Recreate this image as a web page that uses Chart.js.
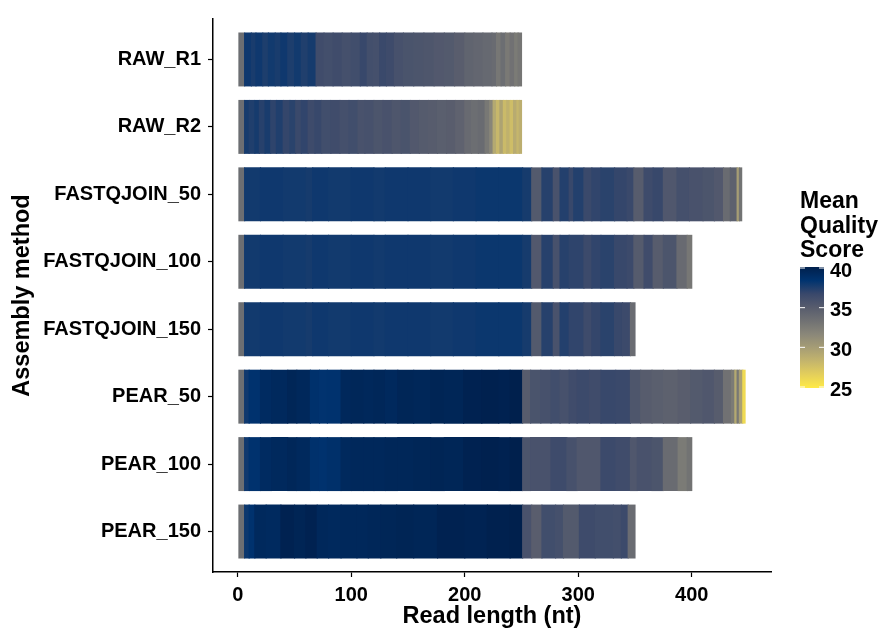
<!DOCTYPE html>
<html>
<head>
<meta charset="utf-8">
<script src="https://cdn.jsdelivr.net/npm/chart.js@4.4.1/dist/chart.umd.min.js"></script>
<style>
  html, body { margin: 0; padding: 0; background: #ffffff; }
  #wrap { width: 882px; height: 635px; position: relative; }
</style>
</head>
<body>
<div id="wrap"><canvas id="chart" width="882" height="635"></canvas></div>
<script>
// Assembly methods (top to bottom) and their read lengths in nt
const rowLabels = ['RAW_R1', 'RAW_R2', 'FASTQJOIN_50', 'FASTQJOIN_100', 'FASTQJOIN_150', 'PEAR_50', 'PEAR_100', 'PEAR_150'];
const readLengths = [250, 250, 444, 400, 350, 447, 400, 350];
const xTicks = [0, 100, 200, 300, 400];
const qualityTicks = [40, 35, 30, 25];

// Runs of similar mean quality: first position of each run and its mean quality score
const rawR1Start = [1, 6, 12, 16, 22, 27, 33, 38, 44, 50, 56, 62, 69, 76, 84, 92, 100, 108, 114, 119, 125, 131, 138, 146, 155, 164, 173, 182, 191, 200, 208, 216, 224, 228, 232, 236, 240, 244, 247];
const rawR1Qual  = [33.6, 37.9, 37.6, 37.9, 37.5, 37.8, 37.6, 37.9, 37.5, 37.8, 37.4, 37.7, 36.3, 36.1, 36.3, 36.0, 36.2, 36.7, 36.1, 36.0, 36.6, 36.4, 35.9, 35.7, 35.6, 35.5, 35.3, 35.2, 34.9, 34.4, 34.2, 34.0, 33.8, 32.9, 33.6, 32.7, 33.3, 32.6, 33.0];

const rawR2Start = [1, 6, 10, 15, 19, 24, 29, 34, 40, 46, 51, 56, 62, 68, 74, 82, 90, 98, 106, 112, 120, 128, 136, 144, 152, 160, 168, 176, 184, 192, 200, 206, 212, 218, 222, 225, 228, 231, 234, 237, 240, 243, 246, 248];
const rawR2Qual  = [33.6, 37.7, 37.4, 37.7, 37.2, 37.6, 37.0, 37.4, 36.8, 37.1, 36.6, 36.9, 36.4, 36.7, 36.2, 36.3, 36.0, 36.2, 35.8, 35.9, 35.6, 35.8, 35.5, 35.7, 35.3, 35.1, 35.0, 34.8, 34.9, 34.5, 33.9, 33.6, 33.8, 32.8, 31.8, 29.2, 28.2, 29.6, 28.0, 28.6, 27.8, 29.0, 28.3, 28.8];

const fqj50Start = [1, 6, 20, 40, 60, 66, 80, 100, 120, 130, 150, 170, 190, 210, 230, 251, 259, 268, 278, 284, 292, 296, 305, 312, 320, 332, 343, 349, 358, 366, 375, 387, 398, 410, 420, 428, 434, 440, 442];
const fqj50Qual  = [33.6, 37.8, 37.9, 37.8, 37.7, 37.9, 37.8, 37.9, 37.8, 37.9, 37.9, 37.8, 37.9, 38.0, 38.0, 37.7, 35.2, 37.2, 35.8, 37.3, 36.7, 37.3, 36.6, 36.9, 37.1, 36.8, 36.6, 35.0, 36.4, 36.7, 35.4, 36.0, 35.8, 35.6, 35.3, 33.8, 34.6, 30.0, 33.2];

const fqj100Start = [1, 6, 20, 40, 60, 66, 80, 100, 120, 130, 150, 170, 190, 210, 230, 251, 259, 268, 278, 284, 292, 305, 312, 320, 332, 343, 349, 358, 366, 375, 387, 396];
const fqj100Qual  = [33.6, 37.8, 37.9, 37.8, 37.7, 37.9, 37.8, 37.9, 37.8, 37.9, 37.9, 37.8, 37.9, 38.0, 38.0, 37.7, 35.3, 37.2, 35.9, 37.2, 37.0, 36.5, 36.9, 37.1, 36.7, 36.5, 35.1, 36.3, 35.0, 35.6, 33.9, 32.9];

const fqj150Start = [1, 6, 20, 40, 60, 66, 80, 100, 120, 130, 150, 170, 190, 210, 230, 251, 259, 268, 278, 284, 292, 305, 312, 320, 332, 339, 346];
const fqj150Qual  = [33.6, 37.8, 37.9, 37.8, 37.7, 37.9, 37.8, 37.9, 37.8, 37.9, 37.9, 37.8, 37.9, 38.0, 38.0, 37.7, 35.2, 37.2, 35.8, 37.3, 36.9, 36.4, 36.8, 37.1, 36.7, 36.5, 33.7];

const pear50Start = [1, 6, 10, 20, 30, 44, 52, 64, 72, 79, 91, 100, 111, 120, 130, 141, 155, 170, 182, 199, 215, 230, 240, 251, 258, 267, 276, 284, 292, 299, 310, 320, 333, 346, 355, 365, 375, 388, 399, 410, 420, 428, 435, 438, 440, 442, 445];
const pear50Qual  = [33.6, 37.9, 38.4, 39.0, 39.2, 39.5, 39.3, 38.5, 38.3, 38.4, 39.3, 39.4, 39.3, 39.4, 39.2, 39.5, 39.4, 39.6, 39.5, 39.8, 39.9, 39.8, 40.0, 35.0, 35.7, 35.9, 36.2, 35.9, 36.3, 36.5, 36.3, 36.7, 36.6, 35.5, 35.0, 34.8, 34.6, 34.9, 35.2, 35.4, 35.0, 33.3, 32.6, 29.2, 32.8, 29.8, 26.0];

const pear100Start = [1, 6, 10, 20, 30, 44, 52, 64, 72, 79, 91, 100, 111, 120, 130, 141, 155, 170, 182, 199, 215, 230, 240, 251, 258, 276, 290, 299, 320, 333, 346, 352, 365, 375, 388, 396];
const pear100Qual  = [33.6, 37.9, 38.4, 39.0, 39.2, 39.4, 39.2, 38.5, 38.4, 38.6, 39.2, 39.3, 39.3, 39.3, 39.4, 39.4, 39.5, 39.6, 39.5, 39.8, 39.9, 39.8, 40.0, 35.6, 35.8, 36.4, 35.9, 35.4, 36.5, 36.3, 35.4, 35.8, 35.6, 33.8, 32.6, 33.2];

const pear150Start = [1, 6, 10, 15, 25, 38, 50, 60, 70, 80, 91, 105, 115, 126, 140, 155, 176, 200, 220, 240, 251, 259, 268, 280, 287, 301, 315, 331, 338, 344];
const pear150Qual  = [33.6, 38.0, 38.4, 39.2, 39.1, 39.8, 39.6, 39.8, 39.3, 39.2, 39.3, 39.3, 39.4, 39.5, 39.6, 39.5, 39.8, 39.7, 39.9, 40.0, 35.8, 34.9, 36.2, 36.0, 35.2, 36.4, 36.2, 36.1, 36.5, 33.7];

const rowRuns = [
  [rawR1Start, rawR1Qual], [rawR2Start, rawR2Qual],
  [fqj50Start, fqj50Qual], [fqj100Start, fqj100Qual], [fqj150Start, fqj150Qual],
  [pear50Start, pear50Qual], [pear100Start, pear100Qual], [pear150Start, pear150Qual]
];

// cividis palette, reversed so that high quality is dark blue
const cividis = ['#00204D', '#00336F', '#39486B', '#575C6D', '#707173', '#8A8779', '#A69D75', '#C4B56C', '#E4CF5B', '#FFEA46'];
const Q_LOW = 25, Q_HIGH = 40;
const cividisRgb = cividis.map(h => [1, 3, 5].map(i => parseInt(h.substr(i, 2), 16)));

function qualityColor(q) {
  let t = (Q_HIGH - q) / (Q_HIGH - Q_LOW);
  t = Math.max(0, Math.min(1, t));
  const pos = t * (cividisRgb.length - 1);
  const i = Math.min(Math.floor(pos), cividisRgb.length - 2);
  const f = pos - i;
  const a = cividisRgb[i], b = cividisRgb[i + 1];
  const c = a.map((v, k) => Math.round(v + (b[k] - v) * f));
  return `rgb(${c[0]},${c[1]},${c[2]})`;
}

// One dataset per assembly method; each run is a floating bar along the read.
// A run reaches one position into the next one, which is drawn over it, so no seams show.
const datasets = rowRuns.map(([starts, quals], r) => ({
  label: rowLabels[r],
  data: starts.map((s, k) => ({
    x: [s - 0.5, k === starts.length - 1 ? readLengths[r] + 0.5 : starts[k + 1] + 0.5],
    y: r + 1,
    q: quals[k]
  })),
  backgroundColor: ctx => qualityColor(ctx.raw.q),
  borderWidth: 0,
  grouped: false,
  barPercentage: 0.8,
  categoryPercentage: 1
}));

const FONT = "'Liberation Sans', Arial, Helvetica, sans-serif";

// Colour bar legend for mean quality score
const colorBarLegend = {
  id: 'colorBarLegend',
  afterDraw(chart) {
    const ctx = chart.ctx;
    const x0 = 800, w = 24, yTop = 267, yBot = 388;
    const yHi = 268, yLo = 387;
    const grad = ctx.createLinearGradient(0, yTop, 0, yBot);
    cividis.forEach((c, i) => grad.addColorStop(i / (cividis.length - 1), c));
    ctx.save();
    ctx.fillStyle = grad;
    ctx.fillRect(x0, yTop, w, yBot - yTop);
    ctx.strokeStyle = '#ffffff';
    ctx.lineWidth = 1;
    ctx.fillStyle = '#000000';
    ctx.font = `bold 20px ${FONT}`;
    ctx.textAlign = 'left';
    ctx.textBaseline = 'middle';
    qualityTicks.forEach(v => {
      const y = yLo + (yHi - yLo) * (v - Q_LOW) / (Q_HIGH - Q_LOW);
      ctx.beginPath();
      ctx.moveTo(x0, y); ctx.lineTo(x0 + 5, y);
      ctx.moveTo(x0 + w - 5, y); ctx.lineTo(x0 + w, y);
      ctx.stroke();
      ctx.fillText(String(v), x0 + 30, y + 3);
    });
    ctx.font = `bold 23px ${FONT}`;
    ctx.textBaseline = 'alphabetic';
    ['Mean', 'Quality', 'Score'].forEach((t, i) => ctx.fillText(t, x0, 208 + i * 24.5));
    ctx.restore();
  }
};

new Chart(document.getElementById('chart'), {
  type: 'bar',
  data: { datasets },
  plugins: [colorBarLegend],
  options: {
    indexAxis: 'y',
    responsive: false,
    animation: false,
    events: [],
    layout: { padding: { top: 8, right: 111, left: 0, bottom: 0 } },
    plugins: { legend: { display: false }, tooltip: { enabled: false } },
    scales: {
      x: {
        type: 'linear',
        min: -21.85,
        max: 469.85,
        afterBuildTicks: s => { s.ticks = xTicks.map(v => ({ value: v })); },
        afterFit: s => { s.height = 63; },
        grid: { drawOnChartArea: false, drawTicks: true, tickLength: 5, tickColor: '#000', tickWidth: 1.2 },
        border: { display: true, color: '#000', width: 1.5 },
        ticks: { color: '#000', padding: 6, font: { family: FONT, size: 20, weight: 'bold' } },
        title: { display: true, text: 'Read length (nt)', color: '#000', padding: { top: 0, bottom: 4 }, font: { family: FONT, size: 23.5, weight: 'bold' } }
      },
      y: {
        type: 'linear',
        offset: false,
        min: 0.4,
        max: 8.6,
        reverse: true,
        afterBuildTicks: s => { s.ticks = rowLabels.map((_, i) => ({ value: i + 1 })); },
        afterFit: s => { s.width = 213; },
        grid: { offset: false, drawOnChartArea: false, drawTicks: true, tickLength: 5, tickColor: '#000', tickWidth: 1.2 },
        border: { display: true, color: '#000', width: 1.5 },
        ticks: { color: '#000', padding: 7, autoSkip: false, font: { family: FONT, size: 20, weight: 'bold' },
                 callback: v => rowLabels[v - 1] },
        title: { display: true, text: 'Assembly method', color: '#000', padding: { top: 8, bottom: 0 }, font: { family: FONT, size: 23.5, weight: 'bold' } }
      }
    }
  }
});
</script>
</body>
</html>
